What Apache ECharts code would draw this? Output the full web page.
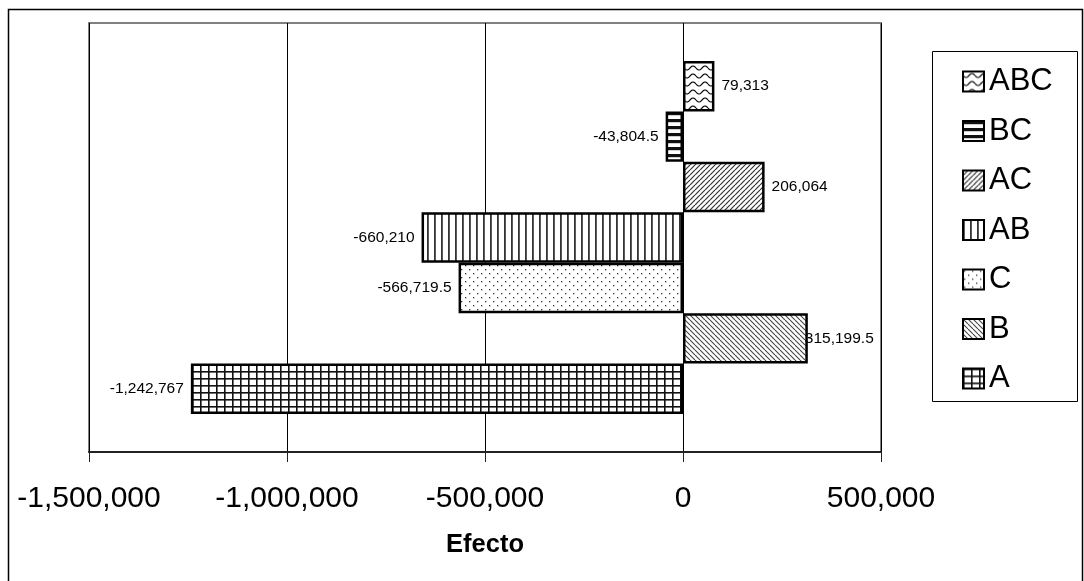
<!DOCTYPE html>
<html>
<head>
<meta charset="utf-8">
<script src="https://cdn.jsdelivr.net/npm/echarts@6/dist/echarts.min.js"></script>
<style>
  html, body { margin: 0; padding: 0; background: #fff; }
  #chart { width: 1084px; height: 581px; }
</style>
</head>
<body>
<div id="chart"></div>
<script>
// Effects of the factorial design (one cluster, one bar per effect)
const categories = [''];
const effectNames = ['ABC', 'BC', 'AC', 'AB', 'C', 'B', 'A'];
const effectValues = [79313, -43804.5, 206064, -660210, -566719.5, 315199.5, -1242767];
const axisMin = -1500000;
const axisMax = 500000;
const axisStep = 500000;
const axisTitle = 'Efecto';

const SANS = '"Liberation Sans", Arial, sans-serif';

// Fill patterns, one per effect
function makeCanvas(w, h) {
  const c = document.createElement('canvas');
  c.width = w; c.height = h;
  const ctx = c.getContext('2d');
  ctx.fillStyle = '#fff';
  ctx.fillRect(0, 0, w, h);
  return [c, ctx];
}
function diagonal(dir, size, width, color) {
  const [c, ctx] = makeCanvas(size, size);
  ctx.strokeStyle = color; ctx.lineWidth = width;
  for (const k of [-size, 0, size]) {
    ctx.beginPath();
    if (dir === 'down') { ctx.moveTo(k, 0); ctx.lineTo(k + size, size); }
    else { ctx.moveTo(k + size, 0); ctx.lineTo(k, size); }
    ctx.stroke();
  }
  return c;
}
const patterns = {
  A: (() => {
    const [c, ctx] = makeCanvas(8, 7);
    ctx.fillStyle = '#111';
    ctx.fillRect(0, 0, 8, 1.6);
    ctx.fillRect(0, 0, 1.6, 7);
    return c;
  })(),
  B: diagonal('down', 5, 1.1, '#444'),
  C: (() => {
    const [c, ctx] = makeCanvas(8, 8);
    ctx.fillStyle = '#333';
    ctx.fillRect(1, 1, 1.3, 1.3);
    ctx.fillRect(5, 5, 1.3, 1.3);
    return c;
  })(),
  AB: (() => {
    const [c, ctx] = makeCanvas(7, 4);
    ctx.fillStyle = '#333';
    ctx.fillRect(0, 0, 1.8, 4);
    return c;
  })(),
  AC: diagonal('up', 5, 1.2, '#333'),
  BC: (() => {
    const [c, ctx] = makeCanvas(4, 7);
    ctx.fillStyle = '#111';
    ctx.fillRect(0, 0, 4, 3.2);
    return c;
  })(),
  ABC: (() => {
    const [c, ctx] = makeCanvas(12, 8);
    ctx.strokeStyle = '#111'; ctx.lineWidth = 1.2;
    ctx.beginPath();
    for (let x = 0; x <= 12; x += 0.5) {
      const y = 4 + 2 * Math.sin(2 * Math.PI * x / 12);
      if (x === 0) ctx.moveTo(x, y); else ctx.lineTo(x, y);
    }
    ctx.stroke();
    return c;
  })()
};

const fmt = v => v.toLocaleString('en-US', { maximumFractionDigits: 1 });
const labelDistance = { B: -3 };

const series = effectNames.map((name, i) => ({
  name: name,
  type: 'bar',
  data: [effectValues[i]],
  barGap: '0%',
  barCategoryGap: '17.7%',
  itemStyle: {
    color: { image: patterns[name], repeat: 'repeat' },
    borderColor: '#000',
    borderWidth: 2.5
  },
  label: {
    show: true,
    position: effectValues[i] >= 0 ? 'right' : 'left',
    distance: labelDistance[name] !== undefined ? labelDistance[name] : 7,
    formatter: p => fmt(p.value),
    color: '#000',
    fontSize: 15.5,
    fontFamily: SANS
  },
  emphasis: { disabled: true },
  animation: false
}));

const chart = echarts.init(document.getElementById('chart'), null, { renderer: 'canvas' });
chart.setOption({
  backgroundColor: '#fff',
  animation: false,
  textStyle: { fontFamily: SANS, color: '#000' },
  grid: {
    left: 89, right: 203, top: 23, bottom: 129,
    show: true, borderColor: '#808080', borderWidth: 2, backgroundColor: 'transparent'
  },
  xAxis: {
    type: 'value',
    min: axisMin, max: axisMax, interval: axisStep,
    name: axisTitle,
    nameLocation: 'middle',
    nameGap: 80,
    nameTextStyle: { fontSize: 25.5, fontWeight: 'bold', color: '#000', fontFamily: SANS },
    axisLine: { show: true, lineStyle: { color: '#222', width: 2 } },
    axisTick: { show: true, length: 10, lineStyle: { color: '#222', width: 1 } },
    axisLabel: { fontSize: 30, color: '#000', margin: 32, fontFamily: SANS, formatter: v => fmt(v) },
    splitLine: { show: true, lineStyle: { color: '#000', width: 1 } }
  },
  yAxis: {
    type: 'category',
    data: categories,
    axisLine: { show: false },
    axisTick: { show: false },
    axisLabel: { show: false },
    splitLine: { show: false }
  },
  legend: {
    orient: 'vertical',
    left: 962,
    top: 66,
    padding: 0,
    itemWidth: 21,
    itemHeight: 20,
    itemGap: 18.5,
    icon: 'rect',
    selectedMode: false,
    textStyle: { fontSize: 31, color: '#000', lineHeight: 31, fontFamily: SANS },
    data: effectNames
  },
  graphic: [
    {
      type: 'rect', silent: true,
      shape: { x: 8.5, y: 9.5, width: 1074, height: 600 },
      style: { fill: 'none', stroke: '#000', lineWidth: 1.5 }
    },
    {
      type: 'rect', silent: true,
      shape: { x: 932.5, y: 51.5, width: 145, height: 350 },
      style: { fill: 'none', stroke: '#000', lineWidth: 1 }
    }
  ],
  series: series
});
</script>
</body>
</html>
